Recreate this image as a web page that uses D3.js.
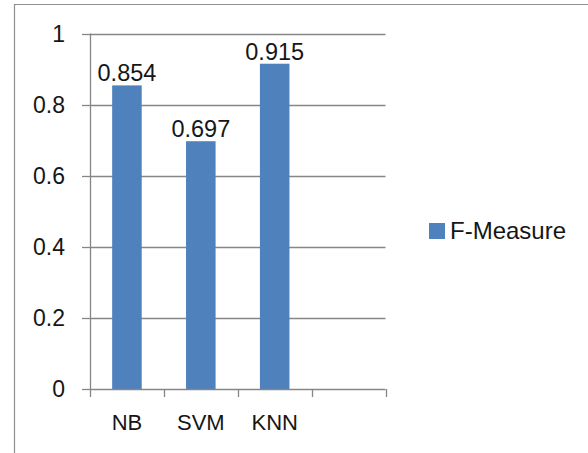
<!DOCTYPE html>
<html>
<head>
<meta charset="utf-8">
<script src="https://cdn.jsdelivr.net/npm/d3@7/dist/d3.min.js"></script>
<style>
  html, body { margin: 0; padding: 0; background: #fff; }
  svg { display: block; font-family: "Liberation Sans", Arial, sans-serif; }
</style>
</head>
<body>
<svg id="chart" width="588" height="453"></svg>
<script>
// Classifier names (the last slot is an empty category)
const categories = ["NB", "SVM", "KNN", ""];
// F-Measure score per classifier
const fMeasure = [0.854, 0.697, 0.915, null];
// Value axis ticks
const yTicks = [0, 0.2, 0.4, 0.6, 0.8, 1];
const yTickLabels = ["0", "0.2", "0.4", "0.6", "0.8", "1"];
const seriesName = "F-Measure";

const svg = d3.select("#chart");
const barColor = "#4f81bd";
const lineColor = "#868686";
const textColor = "#161616";

// chart frame (clipped at right and bottom)
svg.append("path")
  .attr("d", "M14.5,460 V4.5 H600")
  .attr("fill", "none")
  .attr("stroke", "#8f8f8f")
  .attr("stroke-width", 1.2);

const plot = { left: 90, right: 385.5, top: 33.5, bottom: 389 };

const x = d3.scaleBand().domain(categories).range([plot.left, plot.right]).padding(0);
const y = d3.scaleLinear().domain([0, 1]).range([plot.bottom, plot.top]);

// bar width from a 150% gap width
const barW = x.bandwidth() / 2.5;

// horizontal gridlines
svg.append("g").selectAll("line")
  .data(yTicks.filter(t => t > 0))
  .join("line")
  .attr("x1", plot.left).attr("x2", plot.right)
  .attr("y1", d => Math.round(y(d)) + 0.5).attr("y2", d => Math.round(y(d)) + 0.5)
  .attr("stroke", lineColor).attr("stroke-width", 1.3);

// bars
const rows = categories.map((c, i) => ({ c, v: fMeasure[i] })).filter(d => d.v != null);
svg.append("g").selectAll("rect")
  .data(rows)
  .join("rect")
  .attr("x", d => x(d.c) + (x.bandwidth() - barW) / 2)
  .attr("y", d => y(d.v))
  .attr("width", barW)
  .attr("height", d => y(0) - y(d.v))
  .attr("fill", barColor);

// value axis line and ticks
svg.append("line")
  .attr("x1", plot.left + 0.5).attr("x2", plot.left + 0.5)
  .attr("y1", plot.top).attr("y2", plot.bottom)
  .attr("stroke", lineColor).attr("stroke-width", 1.3);
svg.append("g").selectAll("line")
  .data(yTicks)
  .join("line")
  .attr("x1", plot.left - 8).attr("x2", plot.left)
  .attr("y1", d => Math.round(y(d)) + 0.5).attr("y2", d => Math.round(y(d)) + 0.5)
  .attr("stroke", lineColor).attr("stroke-width", 1.3);
svg.append("g").selectAll("text")
  .data(yTicks)
  .join("text")
  .attr("x", 65)
  .attr("y", d => y(d) + 8)
  .attr("text-anchor", "end")
  .attr("font-size", 23)
  .attr("fill", textColor)
  .text((d, i) => yTickLabels[i]);

// category axis line and ticks at band edges
svg.append("line")
  .attr("x1", plot.left).attr("x2", plot.right)
  .attr("y1", plot.bottom + 0.5).attr("y2", plot.bottom + 0.5)
  .attr("stroke", lineColor).attr("stroke-width", 1.3);
const edges = categories.map(c => x(c)).concat([plot.right]);
svg.append("g").selectAll("line")
  .data(edges)
  .join("line")
  .attr("x1", d => Math.round(d) + 0.5).attr("x2", d => Math.round(d) + 0.5)
  .attr("y1", plot.bottom).attr("y2", plot.bottom + 8)
  .attr("stroke", lineColor).attr("stroke-width", 1.3);
svg.append("g").selectAll("text")
  .data(categories)
  .join("text")
  .attr("x", d => x(d) + x.bandwidth() / 2)
  .attr("y", 430)
  .attr("text-anchor", "middle")
  .attr("font-size", 22)
  .attr("fill", textColor)
  .text(d => d);

// data labels
svg.append("g").selectAll("text")
  .data(rows)
  .join("text")
  .attr("x", d => x(d.c) + x.bandwidth() / 2)
  .attr("y", d => y(d.v) - 4)
  .attr("text-anchor", "middle")
  .attr("font-size", 23.5)
  .attr("fill", textColor)
  .text(d => d3.format(".3f")(d.v));

// legend
const legend = svg.append("g").attr("transform", "translate(429,223)");
legend.append("rect").attr("width", 16).attr("height", 16).attr("fill", barColor);
legend.append("text")
  .attr("x", 21).attr("y", 15.5)
  .attr("font-size", 24)
  .attr("fill", textColor)
  .text(seriesName);
</script>
</body>
</html>
